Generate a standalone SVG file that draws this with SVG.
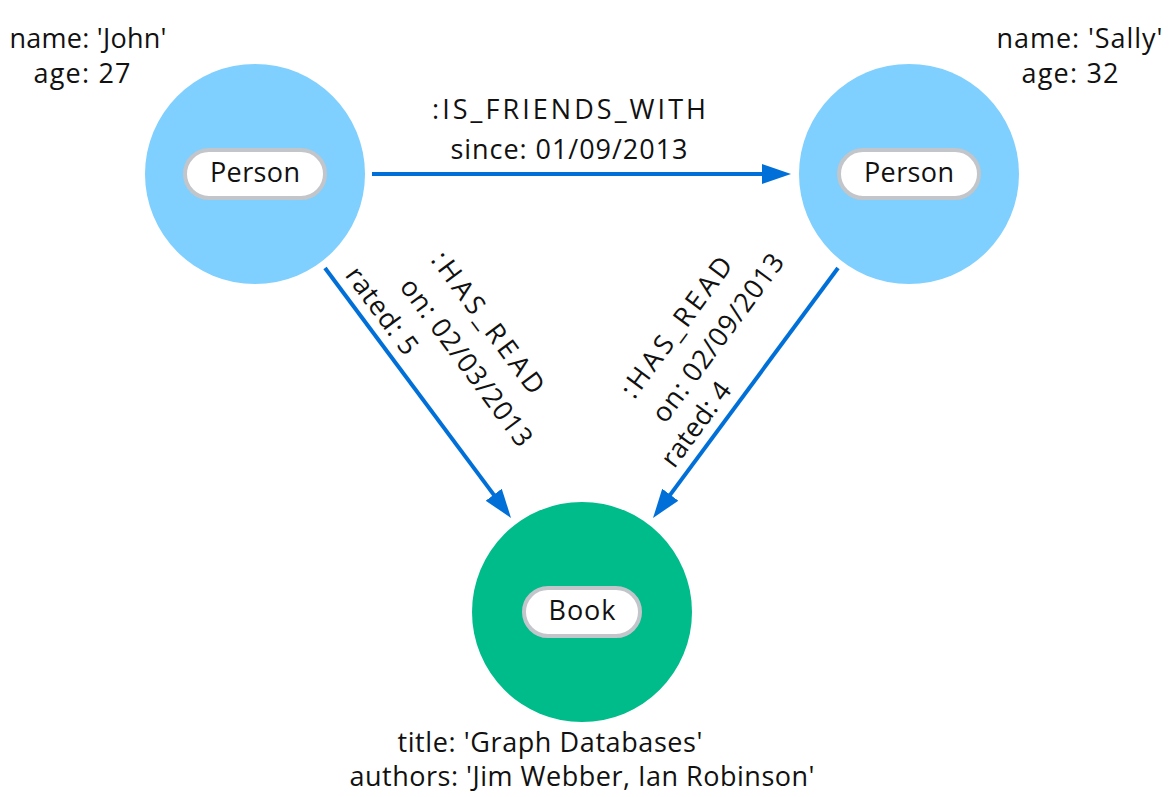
<svg xmlns="http://www.w3.org/2000/svg" width="1173" height="797" viewBox="0 0 1173 797">
<defs>
<style>
text{font-family:"Open Sans","Noto Sans",sans-serif;font-size:27px;fill:#111;}
.c{text-anchor:middle;}
.m{text-anchor:middle;dominant-baseline:central;}
.person{fill:#7fcfff;}
.book{fill:#00bb8a;}
.pill{fill:#fff;stroke:#c2c5c9;stroke-width:4;}
.edge{stroke:#0070d8;stroke-width:4;fill:none;marker-end:url(#ah);}
</style>
<marker id="ah" markerUnits="userSpaceOnUse" markerWidth="30" markerHeight="22" viewBox="0 -11 30 22" refX="4" refY="0" orient="auto">
<path d="M0,-10 L29,0 L0,10 z" fill="#0070d8"/>
</marker>
</defs>
<rect width="1173" height="797" fill="#fff"/>
<g id="connectors">
<line class="edge" x1="372" y1="174" x2="766" y2="174"/>
<line class="edge" x1="325" y1="268" x2="496.1" y2="497.9"/>
<line class="edge" x1="838" y1="268" x2="667.9" y2="497.9"/>
<text class="c" x="569" y="119" textLength="274" lengthAdjust="spacing">:IS_FRIENDS_WITH</text>
<text class="c" x="569" y="159" textLength="237" lengthAdjust="spacing">since: 01/09/2013</text>
<text class="m" transform="translate(489,322) rotate(53.4)" textLength="170" lengthAdjust="spacing">:HAS_READ</text>
<text class="m" transform="translate(467.5,361.5) rotate(53.4)" textLength="202" lengthAdjust="spacing">on: 02/03/2013</text>
<text class="m" transform="translate(383,310) rotate(53.4)" textLength="102" lengthAdjust="spacing">rated: 5</text>
<text class="m" transform="translate(675.5,326.5) rotate(-53.5)" textLength="168" lengthAdjust="spacing">:HAS_READ</text>
<text class="m" transform="translate(717,337) rotate(-53.5)" textLength="202" lengthAdjust="spacing">on: 02/09/2013</text>
<text class="m" transform="translate(695,423.5) rotate(-53.5)" textLength="98" lengthAdjust="spacing">rated: 4</text>
</g>
<g id="john">
<circle class="person" cx="255" cy="174" r="110"/>
<rect class="pill" x="185" y="150" width="140" height="48" rx="24"/>
<text class="c" x="255" y="182" textLength="90" lengthAdjust="spacing">Person</text>
<text class="c" x="88" y="48" textLength="157" lengthAdjust="spacing">name: 'John'</text>
<text class="c" x="82" y="83" textLength="97" lengthAdjust="spacing">age: 27</text>
</g>
<g id="sally">
<circle class="person" cx="909" cy="174" r="110"/>
<rect class="pill" x="839" y="150" width="140" height="48" rx="24"/>
<text class="c" x="909" y="182" textLength="90" lengthAdjust="spacing">Person</text>
<text class="c" x="1079.5" y="48" textLength="166" lengthAdjust="spacing">name: 'Sally'</text>
<text class="c" x="1070" y="83" textLength="97" lengthAdjust="spacing">age: 32</text>
</g>
<g id="book">
<circle class="book" cx="582" cy="612" r="110"/>
<rect class="pill" x="524" y="588" width="116" height="48" rx="24"/>
<text class="c" x="582" y="620" textLength="67" lengthAdjust="spacing">Book</text>
<text class="c" x="550" y="752" textLength="305" lengthAdjust="spacing">title: 'Graph Databases'</text>
<text class="c" x="582" y="786" textLength="465" lengthAdjust="spacing">authors: 'Jim Webber, Ian Robinson'</text>
</g>
</svg>
